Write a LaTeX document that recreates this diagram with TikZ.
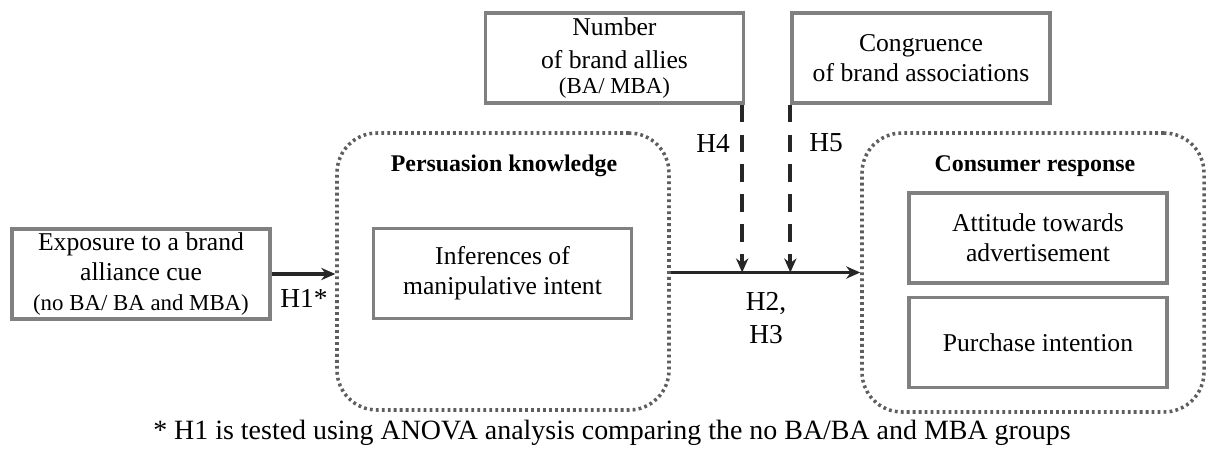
\documentclass[tikz,border=0pt]{standalone}
\usepackage{fontspec}
\setmainfont{Liberation Serif}
\usepackage{tikz}
\usetikzlibrary{positioning,calc,arrows.meta}

\definecolor{boxgray}{HTML}{808080}
\definecolor{dotgray}{HTML}{5E5E5E}
\definecolor{arrowblack}{HTML}{262626}

\newcommand{\maintxt}{\fontsize{14.6}{17}\selectfont}
\newcommand{\smalltxt}{\fontsize{13}{14}\selectfont}

\tikzset{
    varbox/.style={draw=boxgray, line width=1.9pt, fill=white, align=center,
        minimum width=258*0.02cm, minimum height=90*0.02cm, inner sep=2pt, font=\maintxt},
    groupbox/.style={draw=dotgray, line width=2pt, dash pattern=on 1.6pt off 1.8pt,
        rounded corners=0.8cm},
    grouptitle/.style={font=\fontsize{13.6}{16}\selectfont\bfseries},
    effect/.style={draw=arrowblack, line width=2.2pt, -{Stealth[length=8pt,width=7pt]}},
    moderator/.style={effect, dash pattern=on 10pt off 7pt},
    hyp/.style={font=\fontsize{15.6}{18.5}\selectfont, align=center}
}

\begin{document}
\begin{tikzpicture}[x=0.02cm, y=-0.02cm]
    \useasboundingbox (0,0) rectangle (1208,450);

    % groups
    \node[groupbox, minimum width=332*0.02cm, minimum height=277*0.02cm] (pk) at (503,271.5) {};
    \node[groupbox, minimum width=342*0.02cm, minimum height=279*0.02cm] (cr) at (1033,272.5) {};
    \node[grouptitle] (pktitle) at (504,166) {Persuasion knowledge};
    \node[grouptitle] (crtitle) at (1035,166) {Consumer response};

    % variables
    \node[varbox] (expo) at (141,274) {Exposure to a brand\\alliance cue\\{\smalltxt(no BA/ BA and MBA)}};
    \node[varbox] (infer) at (502.5,273.5) {Inferences of\\manipulative intent};
    \node[varbox] (att) at (1038,238) {Attitude towards\\advertisement};
    \node[varbox] (purch) at (1038,342.5) {Purchase intention};
    \node[varbox] (num) at (614.5,58) {Number\\[2pt]of brand allies\\[-3pt]{\smalltxt(BA/ MBA)}};
    \node[varbox] (cong) at (921,58) {Congruence\\of brand associations};

    % paths
    \draw[effect] (expo.east) -- (expo.east -| pk.west);
    \draw[effect] (pk.east |- cr.west) -- (cr.west);
    \coordinate (m4) at ($(num.south east)+(-3,0)$);
    \coordinate (m5) at ($(cong.south west)+(0,0)$);
    \draw[moderator] (m4) -- (m4 |- cr.west);
    \draw[moderator] (m5) -- (m5 |- cr.west);

    % hypotheses
    \node[hyp] (h1) at (304,298) {H1*};
    \node[hyp] (h4) at (713,143) {H4};
    \node[hyp] (h5) at (826,143) {H5};
    \node[hyp] (h23) at (766,318) {H2,\\H3};

    \node[font=\fontsize{15.9}{18}\selectfont] (note) at (612,433)
        {* H1 is tested using ANOVA analysis comparing the no BA/BA and MBA groups};
\end{tikzpicture}
\end{document}
